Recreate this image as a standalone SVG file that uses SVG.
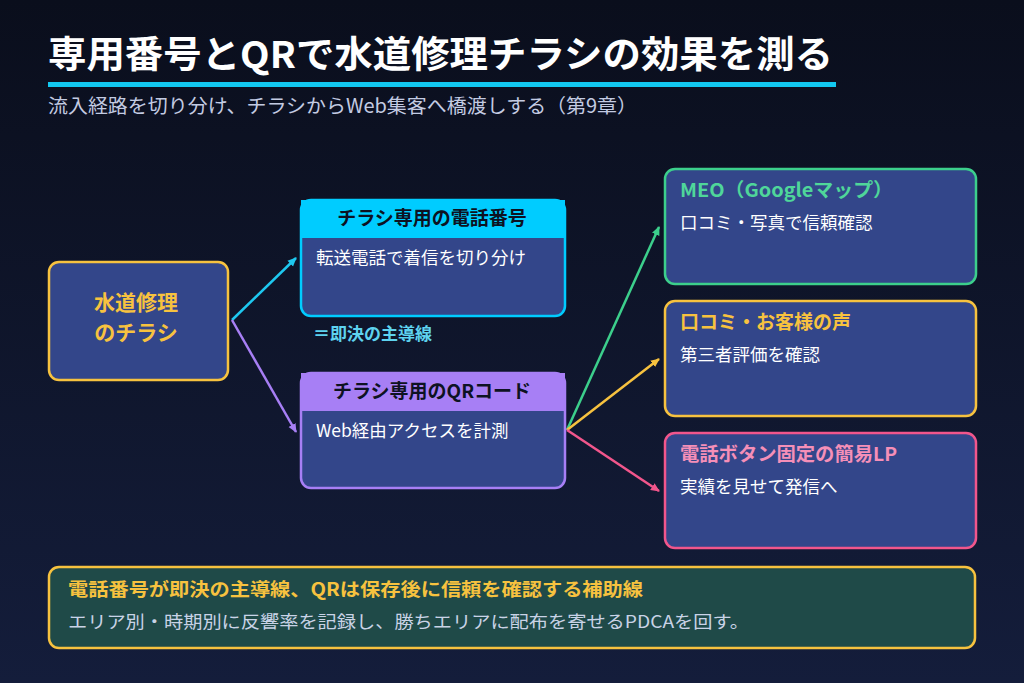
<svg xmlns="http://www.w3.org/2000/svg" width="1024" height="683" viewBox="0 0 1024 683">
<defs>
<linearGradient id="bg" x1="0" y1="0" x2="0" y2="1">
<stop offset="0" stop-color="#0a0e1c"/>
<stop offset="1" stop-color="#141d3b"/>
</linearGradient>
<marker id="mc" markerWidth="10" markerHeight="10" refX="8" refY="5" orient="auto" markerUnits="userSpaceOnUse"><path d="M0,1 L9,5 L0,9 Z" fill="#1ec8f0"/></marker>
<marker id="mp" markerWidth="10" markerHeight="10" refX="8" refY="5" orient="auto" markerUnits="userSpaceOnUse"><path d="M0,1 L9,5 L0,9 Z" fill="#a77ff5"/></marker>
<marker id="mg" markerWidth="10" markerHeight="10" refX="8" refY="5" orient="auto" markerUnits="userSpaceOnUse"><path d="M0,1 L9,5 L0,9 Z" fill="#3ccf8c"/></marker>
<marker id="my" markerWidth="10" markerHeight="10" refX="8" refY="5" orient="auto" markerUnits="userSpaceOnUse"><path d="M0,1 L9,5 L0,9 Z" fill="#f7c23f"/></marker>
<marker id="mk" markerWidth="10" markerHeight="10" refX="8" refY="5" orient="auto" markerUnits="userSpaceOnUse"><path d="M0,1 L9,5 L0,9 Z" fill="#f2568c"/></marker>
</defs>
<style>
text{font-family:"Noto Sans CJK JP","Noto Sans",sans-serif;}
.box{fill:#33468a;stroke-width:2.5;}
.body{font-size:17.5px;fill:#ffffff;}
.hd{font-size:19px;font-weight:700;fill:#0d1222;text-anchor:middle;}
.tt{font-size:19px;font-weight:700;}
.ln{fill:none;stroke-width:2.5;}
</style>
<rect width="1024" height="683" fill="url(#bg)"/>
<text x="48" y="68" font-size="37" font-weight="700" fill="#ffffff" textLength="785" lengthAdjust="spacingAndGlyphs">専用番号とQRで水道修理チラシの効果を測る</text>
<rect x="48" y="82" width="788" height="5" fill="#12c8f0"/>
<text x="48" y="113" font-size="19.5" fill="#c3cbe2" textLength="589" lengthAdjust="spacingAndGlyphs">流入経路を切り分け、チラシからWeb集客へ橋渡しする（第9章）</text>

<g id="connectors">
<line class="ln" x1="232" y1="320" x2="296" y2="258" stroke="#1ec8f0" marker-end="url(#mc)"/>
<line class="ln" x1="232" y1="320" x2="296" y2="432" stroke="#a77ff5" marker-end="url(#mp)"/>
<line class="ln" x1="567" y1="430" x2="659" y2="227" stroke="#3ccf8c" marker-end="url(#mg)"/>
<line class="ln" x1="567" y1="430" x2="659" y2="359" stroke="#f7c23f" marker-end="url(#my)"/>
<line class="ln" x1="567" y1="430" x2="659" y2="491" stroke="#f2568c" marker-end="url(#mk)"/>
</g>

<g id="source">
<rect class="box" x="49" y="262" width="179" height="118" rx="10" stroke="#f7c23f"/>
<text x="136" y="310" font-size="21" font-weight="700" fill="#f7c23f" text-anchor="middle">水道修理</text>
<text x="136" y="340" font-size="21" font-weight="700" fill="#f7c23f" text-anchor="middle">のチラシ</text>
</g>

<g id="phone">
<rect class="box" x="301" y="200" width="264" height="116" rx="10" stroke="#00ccff"/>
<path d="M301,200 H565 V238 H301 Z" fill="#00ccff"/>
<text class="hd" x="432" y="225">チラシ専用の電話番号</text>
<text class="body" x="316" y="264">転送電話で着信を切り分け</text>
</g>
<text x="313" y="340" font-size="17" font-weight="700" fill="#5ed3f0">＝即決の主導線</text>

<g id="qr">
<rect class="box" x="301" y="373" width="264" height="115" rx="10" stroke="#a77ff5"/>
<path d="M301,373 H565 V411 H301 Z" fill="#a77ff5"/>
<text class="hd" x="432" y="398">チラシ専用のQRコード</text>
<text class="body" x="316" y="437">Web経由アクセスを計測</text>
</g>

<g id="meo">
<rect class="box" x="665" y="169" width="311" height="115" rx="10" stroke="#3ccf8c"/>
<text class="tt" x="680" y="197" fill="#4fd69a" textLength="213" lengthAdjust="spacingAndGlyphs">MEO（Googleマップ）</text>
<text class="body" x="680" y="229">口コミ・写真で信頼確認</text>
</g>

<g id="review">
<rect class="box" x="665" y="301" width="311" height="115" rx="10" stroke="#f7c23f"/>
<text class="tt" x="680" y="329" fill="#f7c23f">口コミ・お客様の声</text>
<text class="body" x="680" y="361">第三者評価を確認</text>
</g>

<g id="lp">
<rect class="box" x="665" y="433" width="311" height="115" rx="10" stroke="#f2568c"/>
<text class="tt" x="680" y="461" fill="#f58fb8" textLength="217" lengthAdjust="spacingAndGlyphs">電話ボタン固定の簡易LP</text>
<text class="body" x="680" y="493">実績を見せて発信へ</text>
</g>

<g id="summary">
<rect x="49" y="567" width="926" height="81" rx="10" fill="#1f4a48" stroke="#f7c23f" stroke-width="2.5"/>
<text x="68" y="596" font-size="18" font-weight="700" fill="#f7c23f" textLength="575" lengthAdjust="spacingAndGlyphs">電話番号が即決の主導線、QRは保存後に信頼を確認する補助線</text>
<text x="68" y="628" font-size="17.5" fill="#c9d3e6" textLength="681" lengthAdjust="spacingAndGlyphs">エリア別・時期別に反響率を記録し、勝ちエリアに配布を寄せるPDCAを回す。</text>
</g>
</svg>
